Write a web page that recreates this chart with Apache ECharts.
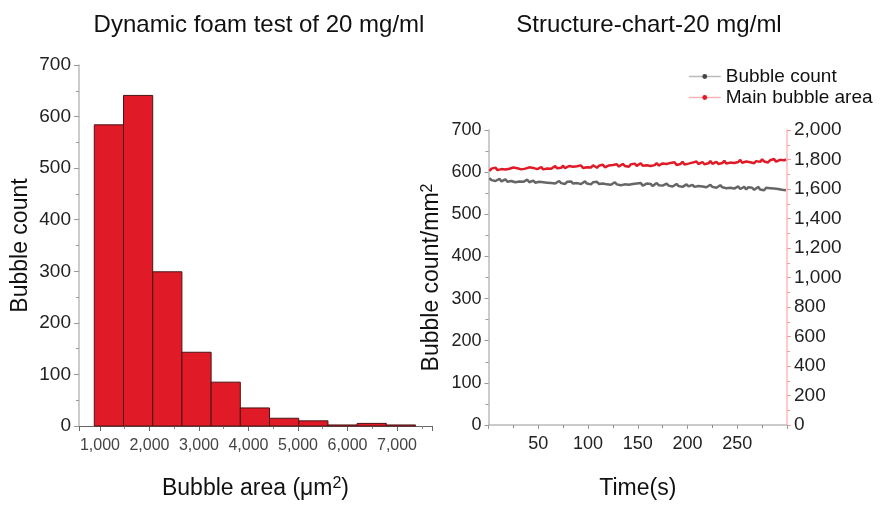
<!DOCTYPE html>
<html>
<head>
<meta charset="utf-8">
<script src="https://cdn.jsdelivr.net/npm/echarts@6/dist/echarts.min.js"></script>
<style>
  html, body { margin: 0; padding: 0; background: #fff; }
  #chart { width: 882px; height: 505px; }
</style>
</head>
<body>
<div id="chart"></div>
<script>
// histogram: bin edges (μm²) and bubble counts per bin
const binEdges = [885, 1475, 2065, 2655, 3245, 3835, 4425, 5015, 5605, 6195, 6785, 7375]
const binCounts = [584, 641, 299, 143, 85, 35, 15, 10, 2, 5, 2]

// time series, one sample every 2 s starting at 1 s
const countSeries = [
  586, 581, 583, 579, 582, 584, 578, 580, 583, 577, 581, 579, 582, 576, 580, 578, 581, 577, 579, 582, 576, 578, 580, 575, 579, 577, 580, 576, 578, 575,
  578, 574, 577, 573, 576, 579, 574, 576, 572, 577, 575, 578, 573, 576, 574, 577, 572, 575, 578, 573, 575, 571, 576, 574, 577, 572, 575, 573, 576, 571,
  574, 570, 573, 576, 571, 574, 569, 573, 571, 575, 570, 566, 572, 569, 573, 570, 574, 568, 571, 573, 569, 572, 567, 571, 574, 569, 572, 568, 570, 573,
  568, 571, 566, 569, 572, 567, 570, 565, 569, 571, 566, 568, 570, 565, 569, 567, 571, 566, 568, 564, 567, 570, 565, 568, 563, 566, 569, 564, 567, 562,
  566, 563, 567, 561, 564, 566, 560, 563, 565, 559, 564, 561, 563, 558, 562, 565, 559, 561, 557, 563, 560, 562, 558, 561, 557, 560, 563, 558, 560, 557
]
const areaSeries = [
  1722, 1738, 1731, 1745, 1728, 1740, 1735, 1748, 1732, 1742, 1737, 1729, 1746, 1734, 1741, 1750, 1733, 1744, 1738, 1730, 1747, 1736, 1743, 1751, 1735, 1741, 1748, 1733, 1745, 1739,
  1750, 1737, 1746, 1755, 1740, 1752, 1744, 1758, 1741, 1749, 1756, 1743, 1751, 1738, 1754, 1747, 1760, 1742, 1753, 1748, 1757, 1745, 1761, 1750, 1744, 1758, 1752, 1765, 1747, 1755,
  1760, 1749, 1763, 1755, 1768, 1752, 1761, 1770, 1756, 1764, 1751, 1767, 1759, 1772, 1757, 1763, 1775, 1758, 1766, 1761, 1771, 1756, 1768, 1762, 1776, 1759, 1767, 1773, 1760, 1769,
  1765, 1777, 1768, 1781, 1763, 1774, 1770, 1785, 1766, 1778, 1772, 1760, 1779, 1771, 1786, 1769, 1775, 1783, 1768, 1780, 1774, 1789, 1771, 1777, 1784, 1770, 1782, 1776, 1791, 1773,
  1785, 1779, 1792, 1776, 1788, 1783, 1797, 1778, 1790, 1786, 1799, 1781, 1793, 1775, 1789, 1796, 1784, 1801, 1787, 1792, 1780, 1795, 1788, 1803, 1785, 1791, 1798, 1786, 1794, 1800
]
const times = countSeries.map((v, i) => 1 + 2 * i)

const FONT = 'Liberation Sans, Arial, sans-serif'
const RED = '#e01a27'

const histData = binCounts.map((c, i) => [binEdges[i], binEdges[i + 1], c])
const countData = countSeries.map((v, i) => [times[i], v])
const areaData = areaSeries.map((v, i) => [times[i], v])

const supRich = {sup: {fontSize: 16, verticalAlign: 'top', padding: [0, 0, 9, 0], color: '#111'}}

const chart = echarts.init(document.getElementById('chart'))

chart.setOption({
  animation: false,
  textStyle: {fontFamily: FONT},
  title: [
    {
      text: 'Dynamic foam test of 20 mg/ml',
      left: 254, top: 8, textAlign: 'center',
      textStyle: {fontSize: 24, fontWeight: 'normal', color: '#111', fontFamily: FONT},
    },
    {
      text: 'Structure-chart-20 mg/ml',
      left: 644, top: 8, textAlign: 'center',
      textStyle: {fontSize: 24, fontWeight: 'normal', color: '#111', fontFamily: FONT},
    },
  ],
  legend: {
    orient: 'vertical',
    left: 683, top: 62,
    itemWidth: 32, itemHeight: 6, itemGap: 2,
    textStyle: {fontSize: 19, color: '#111', fontFamily: FONT},
    data: [
      {name: 'Bubble count', lineStyle: {color: '#bbb', width: 1.5}, itemStyle: {color: '#444'}},
      {name: 'Main bubble area', lineStyle: {color: '#f8b4b8', width: 1.5}, itemStyle: {color: RED}},
    ],
  },
  grid: [
    {left: 79, top: 65, width: 353, height: 367},
    {left: 488.5, top: 130, width: 298.5, height: 300.7},
  ],
  xAxis: [
    {
      gridIndex: 0, type: 'value',
      min: 576, max: 7707, splitNumber: 7,
      name: 'Bubble area (μm{sup|2})', nameLocation: 'middle', nameGap: 50,
      nameTextStyle: {fontSize: 23, color: '#111', rich: supRich},
      axisLine: {lineStyle: {color: '#666', width: 1}},
      axisTick: {show: true, length: 5, lineStyle: {color: '#666'}},
      minorTick: {show: true, splitNumber: 2, length: 3, lineStyle: {color: '#888'}},
      splitLine: {show: false},
      axisLabel: {fontSize: 16, color: '#444', margin: 12, showMinLabel: false, showMaxLabel: false},
    },
    {
      gridIndex: 1, type: 'value',
      min: 0, max: 300, interval: 50,
      name: 'Time(s)', nameLocation: 'middle', nameGap: 52,
      nameTextStyle: {fontSize: 23, color: '#111'},
      axisLine: {lineStyle: {color: '#bbb', width: 1.5}},
      axisTick: {show: true, length: 4, lineStyle: {color: '#999'}},
      minorTick: {show: true, splitNumber: 2, length: 3, lineStyle: {color: '#888'}},
      splitLine: {show: false},
      axisLabel: {fontSize: 18, color: '#222', margin: 10, showMinLabel: false, showMaxLabel: false},
    },
  ],
  yAxis: [
    {
      gridIndex: 0, type: 'value',
      min: 0, max: 700, interval: 100,
      name: 'Bubble count', nameLocation: 'middle', nameGap: 47,
      nameTextStyle: {fontSize: 23, color: '#111'},
      axisLine: {show: true, lineStyle: {color: '#bbb', width: 1.5}},
      axisTick: {show: true, length: 5, lineStyle: {color: '#999'}},
      minorTick: {show: true, splitNumber: 2, length: 3, lineStyle: {color: '#999'}},
      splitLine: {show: false},
      axisLabel: {fontSize: 19, color: '#222', margin: 8},
    },
    {
      gridIndex: 1, type: 'value', position: 'left',
      min: 0, max: 700, interval: 100,
      name: 'Bubble count/mm{sup|2}', nameLocation: 'middle', nameGap: 44,
      nameTextStyle: {fontSize: 23, color: '#111', rich: supRich},
      axisLine: {show: true, lineStyle: {color: '#bbb', width: 1.5}},
      axisTick: {show: true, length: 4, lineStyle: {color: '#999'}},
      minorTick: {show: true, splitNumber: 2, length: 3, lineStyle: {color: '#999'}},
      splitLine: {show: false},
      axisLabel: {fontSize: 18, color: '#222', margin: 7},
    },
    {
      gridIndex: 1, type: 'value', position: 'right',
      min: 0, max: 2000, interval: 200,
      axisLine: {show: true, lineStyle: {color: '#fbb', width: 1.5}},
      axisTick: {show: true, length: 4, lineStyle: {color: '#f99'}},
      minorTick: {show: true, splitNumber: 2, length: 3, lineStyle: {color: '#f99'}},
      splitLine: {show: false},
      axisLabel: {fontSize: 19, color: '#222', margin: 7},
    },
  ],
  series: [
    {
      name: 'Histogram',
      type: 'custom',
      xAxisIndex: 0, yAxisIndex: 0,
      encode: {x: [0, 1], y: 2},
      data: histData,
      renderItem: (params, api) => {
        const topLeft = api.coord([api.value(0), api.value(2)])
        const bottomRight = api.coord([api.value(1), 0])
        return {
          type: 'rect',
          shape: {
            x: topLeft[0], y: topLeft[1],
            width: bottomRight[0] - topLeft[0],
            height: bottomRight[1] - topLeft[1],
          },
          style: {fill: RED, stroke: '#4a1414', lineWidth: 1},
        }
      },
    },
    {
      name: 'Bubble count',
      type: 'line',
      xAxisIndex: 1, yAxisIndex: 1,
      data: countData,
      symbol: 'circle', symbolSize: 3, showSymbol: false,
      lineStyle: {color: '#666', width: 2.5},
      itemStyle: {color: '#666'},
    },
    {
      name: 'Main bubble area',
      type: 'line',
      xAxisIndex: 1, yAxisIndex: 2,
      data: areaData,
      symbol: 'circle', symbolSize: 3, showSymbol: false,
      lineStyle: {color: RED, width: 2.5},
      itemStyle: {color: RED},
    },
  ],
})
</script>
</body>
</html>
